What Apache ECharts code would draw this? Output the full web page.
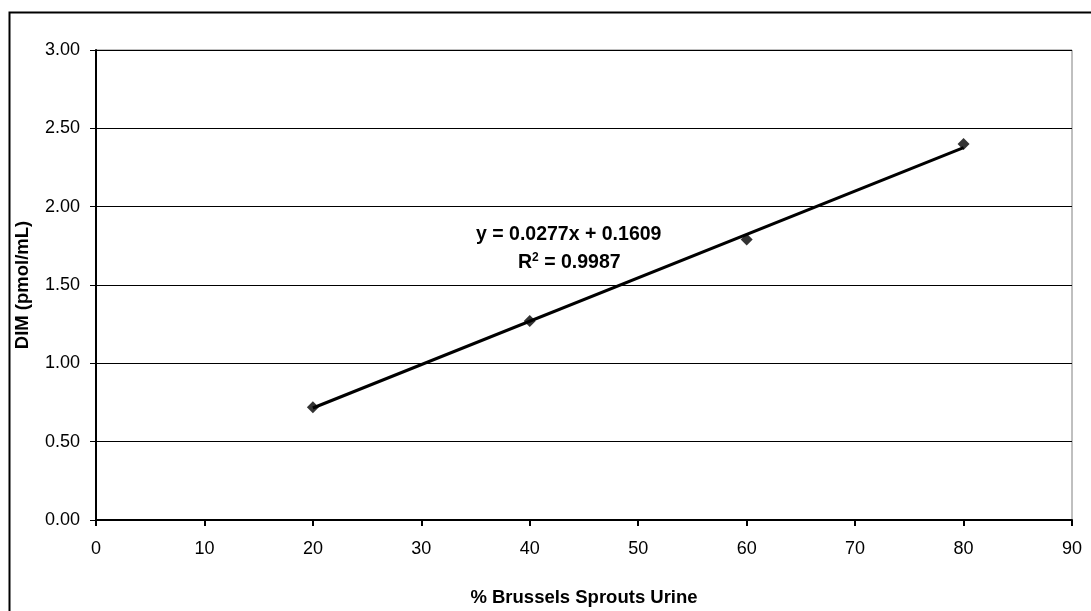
<!DOCTYPE html>
<html lang="en">
<head>
    <meta charset="UTF-8">
    <title>DIM vs % Brussels Sprouts Urine</title>
    <script src="https://cdn.jsdelivr.net/npm/echarts@6/dist/echarts.min.js"></script>
    <style>
        html, body { margin: 0; padding: 0; background: #fff; }
    </style>
</head>
<body>
<div id="main" style="width: 1091px;height:611px;"></div>
</body>
<script>
    // measured points
    var pctUrine = [20, 40, 60, 80];
    var dimValues = [0.72, 1.27, 1.79, 2.40];
    // linear trendline from the chart label
    var slope = 0.0277;
    var intercept = 0.1609;
    var trendX = [20, 80];

    var points = pctUrine.map(function (x, i) { return [x, dimValues[i]]; });
    var trendPoints = trendX.map(function (x) { return [x, slope * x + intercept]; });

    var myChart = echarts.init(document.getElementById('main'));

    var font = 'Liberation Sans, Arial, sans-serif';
    var option = {
        animation: false,
        backgroundColor: '#fff',
        textStyle: { fontFamily: font },
        grid: {
            left: 96, right: 19, top: 50, bottom: 91,
            containLabel: false, outerBoundsMode: 'none',
            show: true, borderColor: '#808080', borderWidth: 1
        },
        graphic: [
            {
                type: 'rect', left: 7, top: 10,
                shape: { width: 1100, height: 620 },
                style: { fill: 'none', stroke: '#000', lineWidth: 2 },
                silent: true
            },
            {
                type: 'text', left: 476, top: 225,
                style: {
                    text: 'y = 0.0277x + 0.1609',
                    font: 'bold 19.5px ' + font,
                    fill: '#000'
                }
            },
            {
                type: 'text', left: 518, top: 252,
                style: {
                    text: '{a|R}{s|2}{a| = 0.9987}',
                    rich: {
                        a: { font: 'bold 19.5px ' + font, fill: '#000', verticalAlign: 'bottom' },
                        s: { font: 'bold 12px ' + font, fill: '#000', verticalAlign: 'top', padding: [0, 0, 9, 0] }
                    }
                }
            }
        ],
        xAxis: {
            type: 'value',
            min: 0, max: 90, interval: 10,
            name: '% Brussels Sprouts Urine',
            nameLocation: 'middle',
            nameGap: 68,
            nameTextStyle: { fontWeight: 'bold', fontSize: 18.5, color: '#000' },
            axisLine: { lineStyle: { color: '#000', width: 2 } },
            axisTick: { show: true, length: 6, lineStyle: { color: '#000', width: 2 } },
            axisLabel: { color: '#000', fontSize: 18, margin: 20 },
            splitLine: { show: false }
        },
        yAxis: {
            type: 'value',
            min: 0, max: 3, interval: 0.5,
            name: 'DIM (pmol/mL)',
            nameLocation: 'middle',
            nameGap: 64,
            nameTextStyle: { fontWeight: 'bold', fontSize: 18.5, color: '#000' },
            axisLine: { show: true, lineStyle: { color: '#000', width: 2 } },
            axisTick: { show: true, length: 6, lineStyle: { color: '#000', width: 1 } },
            axisLabel: {
                color: '#000', fontSize: 18, margin: 16,
                formatter: function (v) { return v.toFixed(2); }
            },
            splitLine: { show: true, lineStyle: { color: '#000', width: 1 } }
        },
        series: [
            {
                type: 'line',
                data: trendPoints,
                symbol: 'none',
                lineStyle: { color: '#000', width: 3 },
                z: 2
            },
            {
                type: 'scatter',
                data: points,
                symbol: 'diamond',
                symbolSize: 12,
                itemStyle: { color: '#000' },
                z: 3
            }
        ]
    };

    myChart.setOption(option);
</script>
</html>
